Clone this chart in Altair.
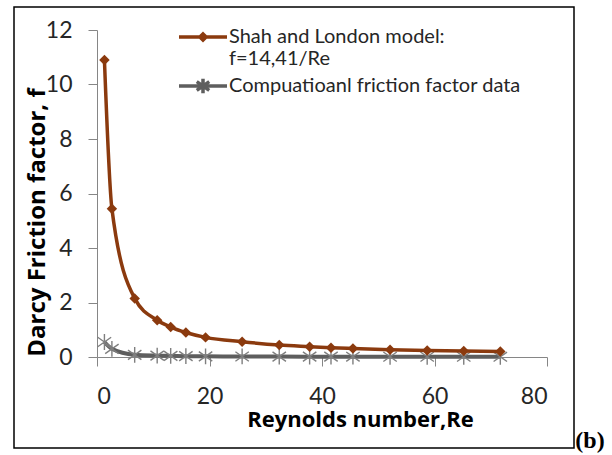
import altair as alt
import pandas as pd

# ---- data ----
reynolds = [1.32, 2.65, 6.7, 10.7, 13.1, 15.8, 19.3, 25.8, 32.4, 37.8, 41.6, 45.5, 52.1, 58.7, 65.2, 71.7]
shah_london = [10.9, 5.44, 2.15, 1.35, 1.1, 0.9, 0.72, 0.56, 0.44, 0.38, 0.34, 0.31, 0.27, 0.24, 0.22, 0.2]
computational = [0.55, 0.3, 0.08, 0.05, 0.04, 0.03, 0.025, 0.02, 0.015, 0.013, 0.012, 0.011, 0.01, 0.009, 0.008, 0.007]
series_keys = ["shah", "comp"]
x_ticks = [0, 20, 40, 60, 80]
y_ticks = [0, 2, 4, 6, 8, 10, 12]

BROWN = "#8B3A0E"
GRAY_LINE = "#5E5E5E"
GRAY_MARK = "#7F7F7F"
FONT = "Lato"
TITLE_FONT = "Open Sans"

rows = []
for r, a, b in zip(reynolds, shah_london, computational):
    rows.append({"Re": r, "f": a, "series": "shah"})
    rows.append({"Re": r, "f": b, "series": "comp"})
df = pd.DataFrame(rows)

x_enc = alt.X("Re:Q", scale=alt.Scale(domain=[0, 80], nice=False),
              axis=alt.Axis(values=x_ticks, title="Reynolds number,Re", titleX=263, titleY=62,
                            titleBaseline="middle"))
y_enc = alt.Y("f:Q", scale=alt.Scale(domain=[0, 12], nice=False),
              axis=alt.Axis(values=y_ticks, title="Darcy Friction factor, f", titleX=-60, titleY=192,
                            titleAngle=270, titleBaseline="middle", titleFontSize=24))

base = alt.Chart(df).encode(x=x_enc, y=y_enc)

shah_line = base.transform_filter(alt.datum.series == "shah").mark_line(
    interpolate="monotone", strokeWidth=3.5, color=BROWN)
comp_line = base.transform_filter(alt.datum.series == "comp").mark_line(
    interpolate="monotone", strokeWidth=4, color=GRAY_LINE)
shah_pts = base.transform_filter(alt.datum.series == "shah").mark_point(
    shape="diamond", filled=True, size=110, color=BROWN, opacity=1)
star_path = "M0,-1L0,1M-0.85,-0.6L0.85,0.6M-0.85,0.6L0.85,-0.6"
comp_pts = base.transform_filter(alt.datum.series == "comp").mark_point(
    shape=star_path, filled=False, size=250, stroke=GRAY_MARK, strokeWidth=1.4, opacity=1)

# legend symbols: size 576 -> unit = 12 px, so x from -2..2 gives a 48 px line
legend_shah = "M-2,0L2,0M0,-0.26L0.26,0L0,0.26L-0.26,0Z"
legend_comp = "M-2,0L2,0M0,-0.6L0,0.6M-0.52,-0.36L0.52,0.36M-0.52,0.36L0.52,-0.36"

legend_layer = base.mark_point(opacity=0, filled=False).encode(
    color=alt.Color("series:N", scale=alt.Scale(domain=series_keys, range=[BROWN, GRAY_LINE]),
                    legend=alt.Legend(
                        title=None, orient="none", legendX=92, legendY=-7,
                        labelExpr="datum.label == 'shah' ? ['Shah and London model:', 'f=14,41/Re'] : 'Compuatioanl friction factor data'",
                        labelFont=FONT, labelFontSize=20, labelColor="#262626", labelLimit=500,
                        labelOffset=12, symbolSize=576, symbolStrokeWidth=3.5, symbolOpacity=1,
                        rowPadding=2, padding=0, labelBaseline="middle")),
    shape=alt.Shape("series:N", scale=alt.Scale(domain=series_keys, range=[legend_shah, legend_comp]),
                    legend=None),
)

frame = alt.Chart(alt.Data(values=[{"k": 1}])).mark_rect(
    fill=None, fillOpacity=0, stroke="black", strokeWidth=1.5).encode(
    x=alt.value(-83), x2=alt.value(477), y=alt.value(-23), y2=alt.value(418))

label_b = alt.Chart(alt.Data(values=[{"t": "(b)"}])).mark_text(
    font="Liberation Serif", fontWeight="bold", fontSize=24, color="black", align="center",
    baseline="middle").encode(text="t:N", x=alt.value(493), y=alt.value(411))

chart = alt.layer(comp_line, comp_pts, shah_line, shah_pts, legend_layer, frame, label_b).properties(
    width=450, height=327,
    autosize=alt.AutoSizeParams(type="none"),
    padding={"left": 97, "top": 30, "right": 65, "bottom": 98},
    background="white",
).configure_view(stroke=None).configure_axis(
    grid=False, domainColor="#868686", tickColor="#868686", tickSize=9,
    labelFont=FONT, labelFontSize=23, labelColor="#262626",
    titleFont=TITLE_FONT, titleFontSize=22, titleFontWeight="bold", titleColor="black",
).configure_axisX(labelPadding=19).configure_axisY(labelPadding=16)

chart.save("out.html", embed_options={"renderer": "svg", "actions": False})
